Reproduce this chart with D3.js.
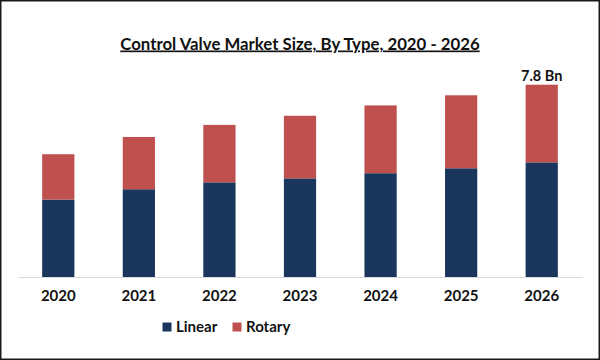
<!DOCTYPE html>
<html>
<head>
<meta charset="utf-8">
<script src="https://cdn.jsdelivr.net/npm/d3@7"></script>
<style>
  html, body { margin: 0; padding: 0; background: #fff; }
  svg { display: block; font-family: Lato, "Open Sans", sans-serif; }
</style>
</head>
<body>
<svg id="chart" width="600" height="360"></svg>
<script>
const categories = ["2020", "2021", "2022", "2023", "2024", "2025", "2026"];
const linear = [3.14, 3.56, 3.84, 4.00, 4.21, 4.41, 4.65];
const rotary = [1.84, 2.12, 2.33, 2.54, 2.75, 2.96, 3.15];
const seriesNames = ["Linear", "Rotary"];
const seriesColors = ["#1b365d", "#c0504d"];
const title = "Control Valve Market Size, By Type, 2020 - 2026";
const lastLabel = "7.8 Bn";

const svg = d3.select("#chart");
const W = 600, H = 360;

// border
svg.append("rect").attr("x", 0.75).attr("y", 0.75).attr("width", W - 1.5).attr("height", H - 1.5)
  .attr("fill", "#fff").attr("stroke", "#1a1a1a").attr("stroke-width", 1.5);

const table = categories.map((c, i) => ({ year: c, Linear: linear[i], Rotary: rotary[i] }));
const stack = d3.stack().keys(seriesNames)(table);

const x = d3.scaleBand().domain(categories).range([18, 582]).paddingInner(0.6).paddingOuter(0.3);
const y = d3.scaleLinear().domain([0, 7.8]).range([277, 84.7]);

const g = svg.append("g");
g.selectAll("g.series").data(stack).join("g")
  .attr("fill", (d, i) => seriesColors[i])
  .selectAll("rect").data(d => d).join("rect")
  .attr("x", d => x(d.data.year))
  .attr("width", x.bandwidth())
  .attr("y", d => y(d[1]))
  .attr("height", d => y(d[0]) - y(d[1]));

// axis
const xAxis = d3.axisBottom(x).tickSize(0).tickPadding(10);
const ax = svg.append("g").attr("transform", "translate(0,277)").call(xAxis);
ax.select(".domain").attr("stroke", "#d9d9d9").attr("stroke-width", 1.2);
ax.selectAll("text").attr("font-size", 15).attr("font-weight", "bold").attr("fill", "#111")
  .attr("font-family", "Lato, sans-serif").attr("dy", "0.9em");

// title
svg.append("text").attr("x", 300).attr("y", 49.5).attr("text-anchor", "middle")
  .attr("font-size", 16.8).attr("font-weight", "bold").attr("fill", "#111")
  .attr("text-decoration", "underline").text(title);

// last label
const lastIdx = categories.length - 1;
svg.append("text").attr("x", x(categories[lastIdx]) + x.bandwidth() / 2)
  .attr("y", y(linear[lastIdx] + rotary[lastIdx]) - 4)
  .attr("text-anchor", "middle").attr("font-size", 14.5).attr("font-weight", "bold").attr("fill", "#111")
  .text(lastLabel);

// legend
const legendX = [162.5, 232.5];
const lg = svg.append("g");
seriesNames.forEach((n, i) => {
  lg.append("rect").attr("x", legendX[i]).attr("y", 322.5).attr("width", 9).attr("height", 9).attr("fill", seriesColors[i]);
  lg.append("text").attr("x", legendX[i] + 13.5).attr("y", 332).attr("font-size", 15).attr("font-weight", "bold")
    .attr("fill", "#111").text(n);
});
</script>
</body>
</html>
